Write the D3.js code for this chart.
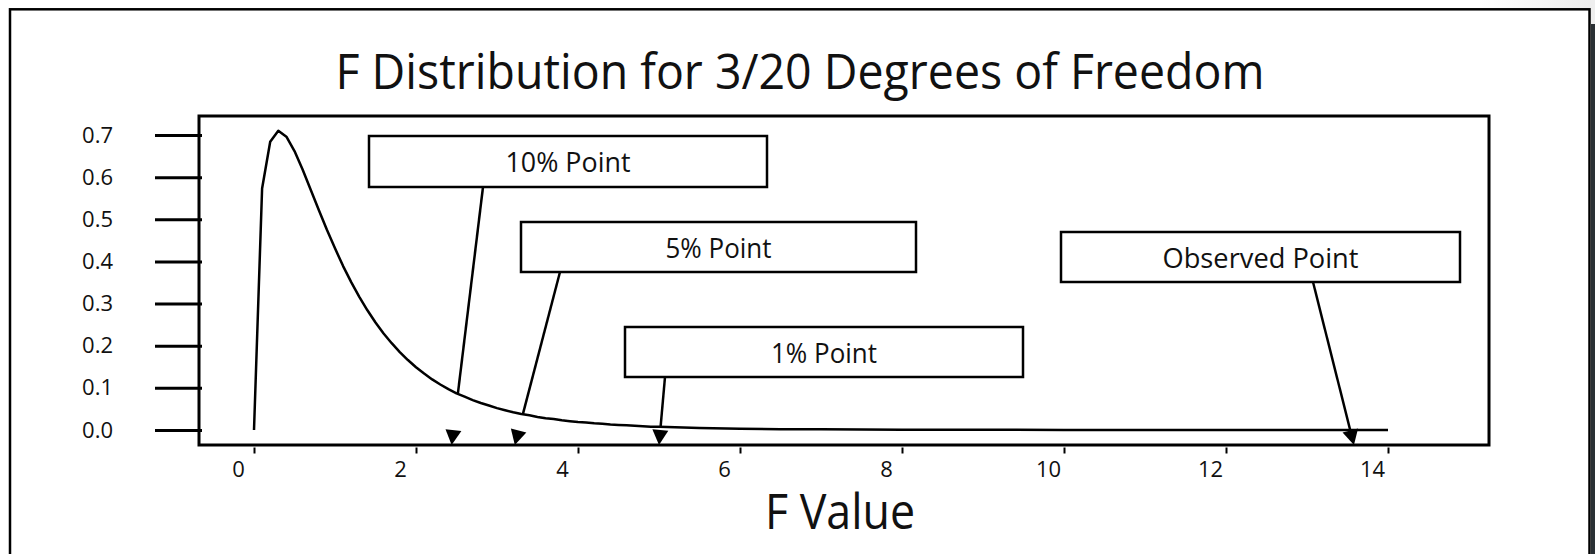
<!DOCTYPE html>
<html>
<head>
<meta charset="utf-8">
<script src="https://cdn.jsdelivr.net/npm/d3@7"></script>
<style>
  html, body { margin: 0; padding: 0; background: #fff; }
  svg { display: block; }
  text { font-family: "Open Sans", "Noto Sans", sans-serif; fill: #111; }
</style>
</head>
<body>
<svg id="chart" width="1595" height="554"></svg>
<script>
// ---- data ----
const fValues = [0,0.1,0.2,0.3,0.4,0.5,0.6,0.7,0.8,0.9,1.0,1.1,1.2,1.3,1.4,1.5,1.6,1.7,1.8,1.9,
  2.0,2.1,2.2,2.3,2.4,2.5,2.6,2.7,2.8,2.9,3.0,3.1,3.2,3.3,3.4,3.5,3.6,3.7,3.8,3.9,
  4.0,4.1,4.2,4.3,4.4,4.5,4.6,4.7,4.8,4.9,5.0,5.5,6.0,6.5,7.0,7.5,8.0,9.0,10.0,11.0,12.0,13.0,14.0];
const density = [0,0.573,0.684,0.710,0.696,0.662,0.618,0.570,0.522,0.475,0.431,0.389,0.351,0.316,0.284,0.255,0.229,0.206,0.185,0.166,
  0.149,0.134,0.120,0.108,0.097,0.087,0.079,0.071,0.064,0.058,0.052,0.047,0.042,0.038,0.035,0.031,0.028,0.026,0.023,0.021,
  0.019,0.018,0.016,0.015,0.013,0.012,0.011,0.010,0.009,0.008,0.008,0.005,0.003,0.002,0.0015,0.001,0.0007,0.0004,0.0002,0.0001,0,0,0];
const yTicks = [0,0.1,0.2,0.3,0.4,0.5,0.6,0.7];
const xTicks = [0,2,4,6,8,10,12,14];
const annotationLabels = ["10% Point","5% Point","1% Point","Observed Point"];
const annotationF = [2.44, 3.22, 5.0, 13.58];
const titleText = "F Distribution for 3/20 Degrees of Freedom";
const xAxisTitle = "F Value";

// ---- layout ----
const svg = d3.select("#chart");
const x = d3.scaleLinear().domain([0,14]).range([254,1388]);
const y = d3.scaleLinear().domain([0,0.7]).range([430,135]);
const axisY = 445;

// top-right light shade and right dark strip
const defs = svg.append("defs");
const g1 = defs.append("linearGradient").attr("id","shade").attr("x1","0").attr("x2","1").attr("y1","0").attr("y2","0");
g1.append("stop").attr("offset","0").attr("stop-color","#ffffff");
g1.append("stop").attr("offset","1").attr("stop-color","#ececec");
svg.append("rect").attr("x",1480).attr("y",0).attr("width",115).attr("height",9).attr("fill","url(#shade)");
svg.append("rect").attr("x",1590).attr("y",0).attr("width",5).attr("height",24).attr("fill","#eeeeee");
svg.append("rect").attr("x",1591).attr("y",24).attr("width",4).attr("height",530).attr("fill","#2a3034");

// outer frame
svg.append("rect").attr("x",10).attr("y",9.3).attr("width",1579.5).attr("height",600)
  .attr("fill","#fff").attr("stroke","#000").attr("stroke-width",2.5);

// title
svg.append("text").attr("x",800).attr("y",89).attr("text-anchor","middle")
  .attr("font-size",49).attr("textLength",929).attr("lengthAdjust","spacingAndGlyphs")
  .text(titleText);

// plot box
svg.append("rect").attr("x",199).attr("y",116).attr("width",1290).attr("height",329)
  .attr("fill","none").attr("stroke","#000").attr("stroke-width",3);

// y axis
const yAxis = svg.append("g").attr("transform","translate(202,0)")
  .call(d3.axisLeft(y).tickValues(yTicks).tickFormat(d3.format(".1f")).tickSizeInner(47).tickSizeOuter(0).tickPadding(42));
yAxis.select(".domain").remove();
yAxis.selectAll(".tick line").attr("stroke","#000").attr("stroke-width",3);
yAxis.selectAll(".tick text").attr("font-size",22).attr("font-family","'Open Sans', sans-serif").attr("fill","#111");

// x axis
const xAxis = svg.append("g").attr("transform",`translate(0,${axisY+2.5})`)
  .call(d3.axisBottom(x).tickValues(xTicks).tickFormat(d3.format("d")).tickSizeInner(6).tickSizeOuter(0));
xAxis.select(".domain").remove();
xAxis.selectAll(".tick line").attr("stroke","#000").attr("stroke-width",2);
xAxis.selectAll(".tick text").attr("font-size",22).attr("font-family","'Open Sans', sans-serif").attr("fill","#111")
  .attr("y",29.5).attr("dy",0).attr("dx",-16);

// x axis title
svg.append("text").attr("x",840).attr("y",529).attr("text-anchor","middle")
  .attr("font-size",50).attr("textLength",150).attr("lengthAdjust","spacingAndGlyphs")
  .text(xAxisTitle);

// curve
const pts = fValues.map((f,i)=>[f,density[i]]);
svg.append("path").datum(pts)
  .attr("d", d3.line().x(d=>x(d[0])).y(d=>y(d[1])))
  .attr("fill","none").attr("stroke","#000").attr("stroke-width",2.5).attr("stroke-linejoin","round");

function curvePx(px){
  const f = x.invert(px);
  let i = d3.bisectRight(fValues, f) - 1;
  i = Math.max(0, Math.min(fValues.length-2, i));
  const t = (f - fValues[i])/(fValues[i+1]-fValues[i]);
  return y(density[i] + t*(density[i+1]-density[i]));
}

// annotation boxes (layout)
const boxes = [
  {x0:369, x1:767, y0:136, y1:187, ax:483, tl:125, stopAtCurve:true},
  {x0:521, x1:916, y0:222, y1:272, ax:560, tl:106, stopAtCurve:true},
  {x0:625, x1:1023, y0:327, y1:377, ax:665, tl:106, stopAtCurve:true},
  {x0:1061, x1:1460, y0:232, y1:282, ax:1313, tl:196, stopAtCurve:false}
];

annotationLabels.forEach((lab,i)=>{
  const b = boxes[i];
  const tipX = x(annotationF[i]), tipY = axisY;
  const sx = b.ax, sy = b.y1;
  const dx = tipX - sx, dy = tipY - sy, len = Math.hypot(dx,dy);
  const ux = dx/len, uy = dy/len;
  const headLen = 15, headHalf = 8;
  let ex, ey;
  if (b.stopAtCurve) {
    let t = 0;
    for (t = 0; t <= 1; t += 0.001) {
      const px = sx + dx*t, py = sy + dy*t;
      if (py >= curvePx(px)) break;
    }
    ex = sx + dx*t; ey = sy + dy*t;
  } else {
    ex = tipX - ux*headLen; ey = tipY - uy*headLen;
  }
  svg.append("line").attr("x1",sx).attr("y1",sy).attr("x2",ex).attr("y2",ey)
    .attr("stroke","#000").attr("stroke-width",2.5);
  const bx = tipX - ux*headLen, by = tipY - uy*headLen;
  const p1 = [bx - uy*headHalf, by + ux*headHalf];
  const p2 = [bx + uy*headHalf, by - ux*headHalf];
  svg.append("polygon").attr("points",[[tipX,tipY],p1,p2].map(p=>p.join(",")).join(" ")).attr("fill","#000");

  svg.append("rect").attr("x",b.x0).attr("y",b.y0).attr("width",b.x1-b.x0).attr("height",b.y1-b.y0)
    .attr("fill","#fff").attr("stroke","#000").attr("stroke-width",2.5);
  svg.append("text").attr("x",(b.x0+b.x1)/2).attr("y",b.y0+36).attr("text-anchor","middle")
    .attr("font-size",27).attr("textLength",b.tl).attr("lengthAdjust","spacingAndGlyphs")
    .text(lab);
});
</script>
</body>
</html>
